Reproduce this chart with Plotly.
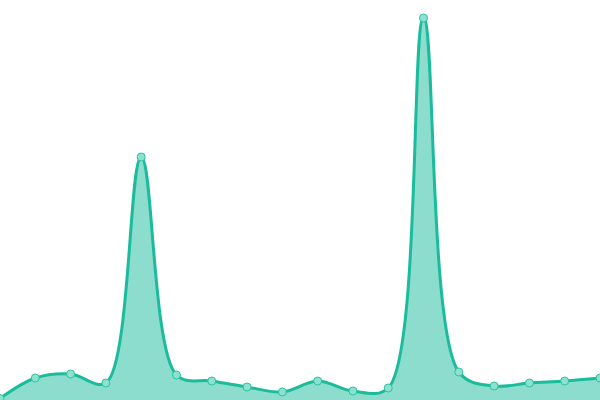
import plotly.graph_objects as go

x_idx = list(range(18))
values = [1.5, 22, 26, 17, 243, 25, 19, 13, 8, 19, 9, 12, 382, 28, 14, 17, 19, 22]

fig = go.Figure()
fig.add_trace(go.Scatter(
    x=x_idx, y=values,
    mode="lines+markers",
    line=dict(color="#1abc9c", width=3, shape="spline", smoothing=1),
    fill="tozeroy",
    fillcolor="rgba(26,188,156,0.5)",
    marker=dict(size=8, color="#8de2cf", line=dict(color="#2cc3a4", width=1)),
    hoverinfo="skip",
    cliponaxis=False,
))
fig.update_layout(
    width=600, height=400,
    margin=dict(l=0, r=0, t=0, b=0),
    paper_bgcolor="white", plot_bgcolor="white",
    showlegend=False,
    xaxis=dict(visible=False, range=[0, 17]),
    yaxis=dict(visible=False, range=[0, 400]),
)
fig.write_html(
    "out.html",
    config={"displayModeBar": False},
    post_script="document.body.style.margin='0';document.body.style.overflow='hidden';",
)
